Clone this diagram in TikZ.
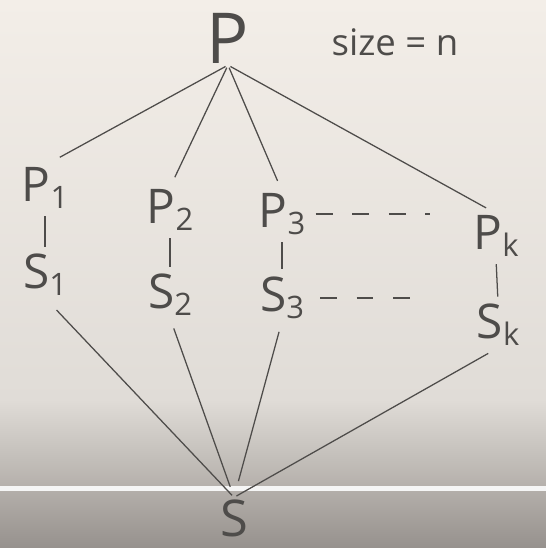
\documentclass[tikz,border=0pt]{standalone}
\usepackage{fontspec}
\setsansfont{Open Sans}
\usepackage{tikz}
\usetikzlibrary{positioning,calc}
\definecolor{ink}{RGB}{78,76,74}
\definecolor{boardtop}{RGB}{243,238,232}
\definecolor{boardmid}{RGB}{224,220,215}
\definecolor{boardlow}{RGB}{150,145,141}
\tikzset{every picture/.style={line width=0.9pt}}
\newcommand{\lowidx}[1]{{\fontsize{22}{22}\selectfont\raisebox{-5pt}{#1}}}

\begin{document}
\begin{tikzpicture}[x=0.25mm,y=-0.25mm,
    lbl/.style={text=ink,font=\sffamily\fontsize{34}{40}\selectfont,inner sep=1pt},
    wire/.style={draw=ink},
    gap/.style={draw=ink,dash pattern=on 12pt off 14pt}]
    % 背景
    \useasboundingbox (0,0) rectangle (546,548);
    \shade[top color=boardtop,bottom color=boardmid] (0,0) rectangle (546,400);
    \shade[top color=boardmid,bottom color=boardlow] (0,400) rectangle (546,548);
    \fill[white!92!gray] (0,486) rectangle (546,491);

    % 节点
    \node[lbl,font=\sffamily\fontsize{50}{56}\selectfont] (top) at (228,38) {P};
    \node[lbl,font=\sffamily\fontsize{26}{30}\selectfont] (size) at (395,42) {size = n};
    \node[lbl] (p1) at (45,188) {P\lowidx{1}};
    \node[lbl] (p2) at (170,210) {P\lowidx{2}};
    \node[lbl] (p3) at (282,214) {P\lowidx{3}};
    \node[lbl] (pk) at (496,236) {P\lowidx{k}};
    \node[lbl] (s1) at (45,275) {S\lowidx{1}};
    \node[lbl] (s2) at (170,295) {S\lowidx{2}};
    \node[lbl] (s3) at (282,298) {S\lowidx{3}};
    \node[lbl] (sk) at (498,325) {S\lowidx{k}};
    \node[lbl,font=\sffamily\fontsize{36}{40}\selectfont] (bot) at (234,518) {S};
    \coordinate (pend) at (430,214);
    \coordinate (send) at (425,298);

    % 连线
    \draw[wire,shorten <=2pt,shorten >=12pt] (top.south) -- (p1.north);
    \draw[wire,shorten <=2pt,shorten >=8pt] (top.south) -- (p2.north);
    \draw[wire,shorten <=2pt,shorten >=8pt] (top.south) -- (p3.north);
    \draw[wire,shorten <=2pt,shorten >=8pt] (top.south) -- (pk.north);
    \foreach \i in {1,2,3,k}
        \draw[wire,shorten <=4pt,shorten >=4pt] (p\i.south) -- (s\i.north);
    \draw[wire,shorten <=12pt,shorten >=2pt] (s1.south) -- (bot.north);
    \draw[wire,shorten <=8pt,shorten >=8pt] (s2.south) -- (bot.north);
    \draw[wire,shorten <=8pt,shorten >=12pt] (s3.south) -- (bot.north);
    \draw[wire,shorten <=8pt,shorten >=2pt] (sk.south) -- (bot.north);
    \draw[gap,shorten <=6pt] (p3.east) -- (pend);
    \draw[gap,shorten <=10pt] (s3.east) -- (send);
\end{tikzpicture}
\end{document}
